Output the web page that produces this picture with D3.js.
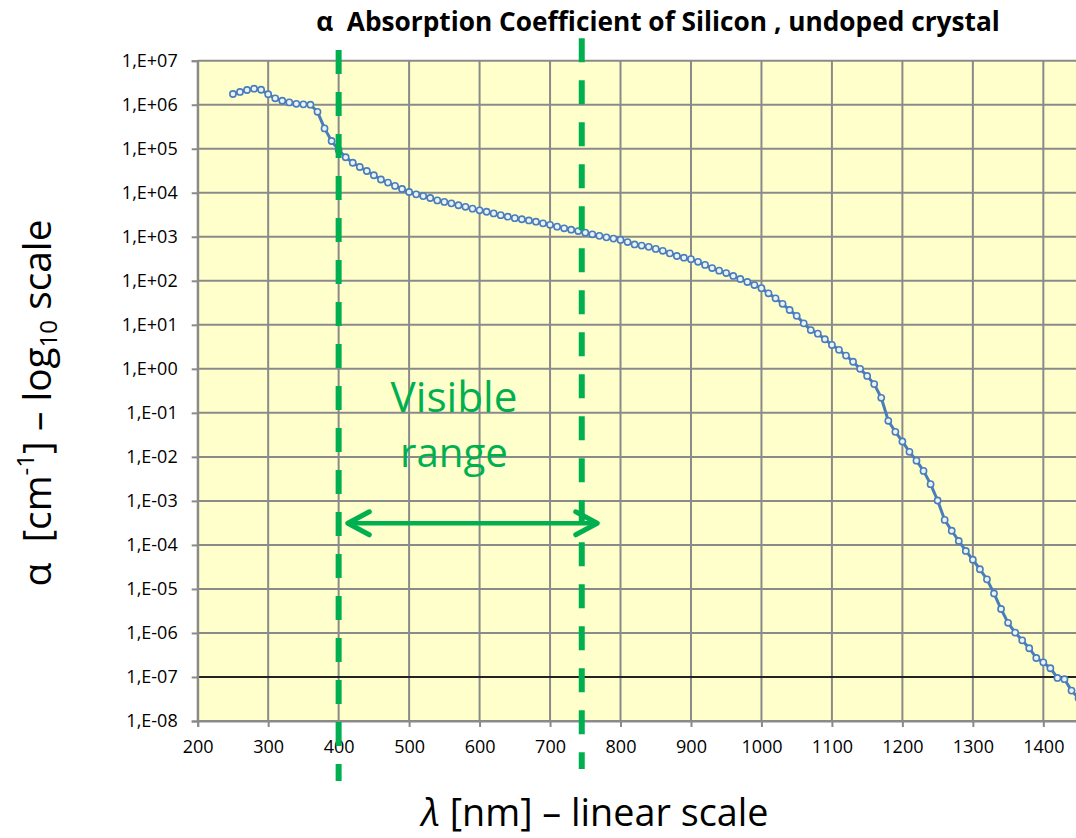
<!DOCTYPE html>
<html><head><meta charset="utf-8">
<script src="https://cdn.jsdelivr.net/npm/d3@7"></script>
<style>body{margin:0;background:#fff;} text{font-family:"Open Sans",sans-serif;}</style>
</head><body><svg id="c" width="1076" height="838"></svg>
<script>
// ---- data ----
const wavelengths = [
 250,260,270,280,290,300,310,320,330,340,
 350,360,370,380,390,400,410,420,430,440,
 450,460,470,480,490,500,510,520,530,540,
 550,560,570,580,590,600,610,620,630,640,
 650,660,670,680,690,700,710,720,730,740,
 750,760,770,780,790,800,810,820,830,840,
 850,860,870,880,890,900,910,920,930,940,
 950,960,970,980,990,1000,1010,1020,1030,1040,
 1050,1060,1070,1080,1090,1100,1110,1120,1130,1140,
 1150,1160,1170,1180,1190,1200,1210,1220,1230,1240,
 1250,1260,1270,1280,1290,1300,1310,1320,1330,1340,
 1350,1360,1370,1380,1390,1400,1410,1420,1430,1440,
 1450];
const alphaValues = [
 1.75e6,1.95e6,2.16e6,2.31e6,2.19e6,1.73e6,1.40e6,1.23e6,1.13e6,1.05e6,
 1.02e6,1.00e6,6.9e5,2.9e5,1.5e5,9.4e4,6.4e4,4.8e4,3.85e4,3.12e4,
 2.5e4,2.0e4,1.7e4,1.43e4,1.22e4,1.04e4,9.2e3,8.4e3,7.6e3,6.7e3,
 6.2e3,5.75e3,5.2e3,4.8e3,4.35e3,4.0e3,3.7e3,3.4e3,3.1e3,2.86e3,
 2.65e3,2.5e3,2.35e3,2.2e3,2.02e3,1.87e3,1.70e3,1.56e3,1.45e3,1.35e3,
 1.24e3,1.14e3,1.05e3,9.7e2,9.1e2,8.5e2,7.6e2,6.7e2,6.3e2,5.9e2,
 5.3e2,4.8e2,4.2e2,3.66e2,3.35e2,3.1e2,2.7e2,2.3e2,1.95e2,1.7e2,
 1.5e2,1.29e2,1.1e2,9.4e1,8.0e1,6.8e1,5.2e1,4.0e1,3.0e1,2.17e1,
 16,10.8,7.6,6.3,4.7,3.5,2.7,2.0,1.45,1.0,
 0.69,0.45,0.22,0.066,0.037,0.0224,0.013,0.0082,0.0048,0.0024,
 1.02e-3,3.7e-4,2.1e-4,1.23e-4,7.3e-5,4.6e-5,2.8e-5,1.65e-5,7.9e-6,3.5e-6,
 1.7e-6,1.02e-6,6.8e-7,4.5e-7,2.7e-7,2.15e-7,1.58e-7,9.5e-8,8.9e-8,4.9e-8,
 3.3e-8];
const xGrid = [200,300,400,500,600,700,800,900,1000,1100,1200,1300,1400,1500];
const xTickLabels = [200,300,400,500,600,700,800,900,1000,1100,1200,1300,1400];
const yTicks = [1e7,1e6,1e5,1e4,1e3,1e2,1e1,1e0,1e-1,1e-2,1e-3,1e-4,1e-5,1e-6,1e-7,1e-8];
const yTickLabels = ["1,E+07","1,E+06","1,E+05","1,E+04","1,E+03","1,E+02","1,E+01","1,E+00",
  "1,E-01","1,E-02","1,E-03","1,E-04","1,E-05","1,E-06","1,E-07","1,E-08"];
const visibleBounds = [400, 745];        // nm, green dashed lines
const arrowSpan = [413, 767];            // nm
const arrowLevel = 3.1e-4;               // alpha level of the arrow
const crossLine = 1e-7;

// ---- layout ----
const svg = d3.select("#c");
const L = 197.7, T = 60.7, B = 721, R = 1113.8;
const x = d3.scaleLinear().domain([200,1500]).range([L,R]);
const y = d3.scaleLog().domain([1e-8,1e7]).range([B,T]);
const grid = "#8a8a8a";

svg.append("rect").attr("width",1076).attr("height",838).attr("fill","#fff");
svg.append("rect").attr("x",L).attr("y",T).attr("width",R-L).attr("height",B-T).attr("fill","#FFFFCC");

// gridlines
svg.append("g").selectAll("line").data(yTicks).join("line")
  .attr("x1",L).attr("x2",R).attr("y1",d=>y(d)).attr("y2",d=>y(d))
  .attr("stroke",grid).attr("stroke-width",2);
svg.append("g").selectAll("line").data(xGrid).join("line")
  .attr("x1",d=>x(d)).attr("x2",d=>x(d)).attr("y1",T).attr("y2",B)
  .attr("stroke",grid).attr("stroke-width",2);
svg.append("line").attr("x1",L).attr("x2",R).attr("y1",y(crossLine)).attr("y2",y(crossLine))
  .attr("stroke","#000").attr("stroke-width",1.3);

// axes
const yAxis = svg.append("g").attr("transform",`translate(${L},0)`)
  .call(d3.axisLeft(y).tickValues(yTicks).tickFormat((d,i)=>yTickLabels[i]).tickSize(6).tickPadding(14));
const xAxis = svg.append("g").attr("transform",`translate(0,${B})`)
  .call(d3.axisBottom(x).tickValues(xTickLabels).tickFormat(d3.format("d")).tickSize(6).tickPadding(12));
[yAxis,xAxis].forEach(a=>{
  a.select(".domain").attr("stroke",grid).attr("stroke-width",2);
  a.selectAll(".tick line").attr("stroke",grid).attr("stroke-width",2);
  a.selectAll(".tick text").attr("fill","#000").attr("font-family","Open Sans").attr("font-size",18);
});
xAxis.selectAll(".tick text").attr("dy","0.8em");

// series
const pts = wavelengths.map((w,i)=>[w,alphaValues[i]]);
svg.append("path").datum(pts)
  .attr("d",d3.line().x(d=>x(d[0])).y(d=>y(d[1])))
  .attr("fill","none").attr("stroke","#4A7EBB").attr("stroke-width",3).attr("stroke-linejoin","round");
svg.append("g").selectAll("circle").data(pts).join("circle")
  .attr("cx",d=>x(d[0])).attr("cy",d=>y(d[1])).attr("r",3.1)
  .attr("fill","#EDF2FA").attr("stroke","#4A7EBB").attr("stroke-width",1.6);

// green dashed lines
const green = "#00B050";
const dashTops = [50, 38.3], dashBots = [781, 769];
svg.append("g").selectAll("line").data(visibleBounds).join("line")
  .attr("x1",d=>x(d)).attr("x2",d=>x(d))
  .attr("y1",(d,i)=>dashTops[i]).attr("y2",(d,i)=>dashBots[i])
  .attr("stroke",green).attr("stroke-width",6).attr("stroke-dasharray","24,18");

// arrow
const ay = y(arrowLevel), ax1 = x(arrowSpan[0]), ax2 = x(arrowSpan[1]);
const ag = svg.append("g").attr("fill","none").attr("stroke",green).attr("stroke-linecap","round").attr("stroke-linejoin","round");
ag.append("line").attr("x1",ax1+2).attr("x2",ax2-2).attr("y1",ay).attr("y2",ay).attr("stroke-width",4.5);
ag.append("path").attr("d",`M${ax1+21.5},${ay-11.5}L${ax1},${ay}L${ax1+21.5},${ay+11.5}`).attr("stroke-width",5);
ag.append("path").attr("d",`M${ax2-21.5},${ay-11.5}L${ax2},${ay}L${ax2-21.5},${ay+11.5}`).attr("stroke-width",5);

// texts
function fit(sel, w){
  const fs = parseFloat(sel.attr("font-size"));
  const cur = sel.node().getComputedTextLength();
  sel.attr("font-size", fs*w/cur);
}
const title = svg.append("text").attr("x",658).attr("y",31).attr("text-anchor","middle")
  .attr("font-weight","bold").attr("font-size",24).style("white-space","pre")
  .text("α  Absorption Coefficient of Silicon , undoped crystal");
fit(title,684);

const v1 = svg.append("text").attr("x",454).attr("y",412).attr("text-anchor","middle")
  .attr("fill",green).attr("font-size",40).text("Visible");
fit(v1,127);
const v2 = svg.append("text").attr("x",454).attr("y",467).attr("text-anchor","middle")
  .attr("fill",green).attr("font-size",40).text("range");
fit(v2,108);

const xt = svg.append("text").attr("x",595).attr("y",826).attr("text-anchor","middle").attr("font-size",32);
xt.append("tspan").attr("font-style","italic").text("λ");
xt.append("tspan").text(" [nm] – linear scale");
fit(xt,347);

const yt = svg.append("text").attr("transform","translate(51,403) rotate(-90)")
  .attr("text-anchor","middle").attr("font-size",32).style("white-space","pre");
yt.append("tspan").text("α  [cm");
yt.append("tspan").attr("font-size","0.62em").attr("dy","-0.7em").text("-1");
yt.append("tspan").attr("dy","0.43em").text("] – log");
yt.append("tspan").attr("font-size","0.62em").attr("dy","0.25em").text("10");
yt.append("tspan").attr("dy","-0.15em").text(" scale");
fit(yt,367);
</script></body></html>
